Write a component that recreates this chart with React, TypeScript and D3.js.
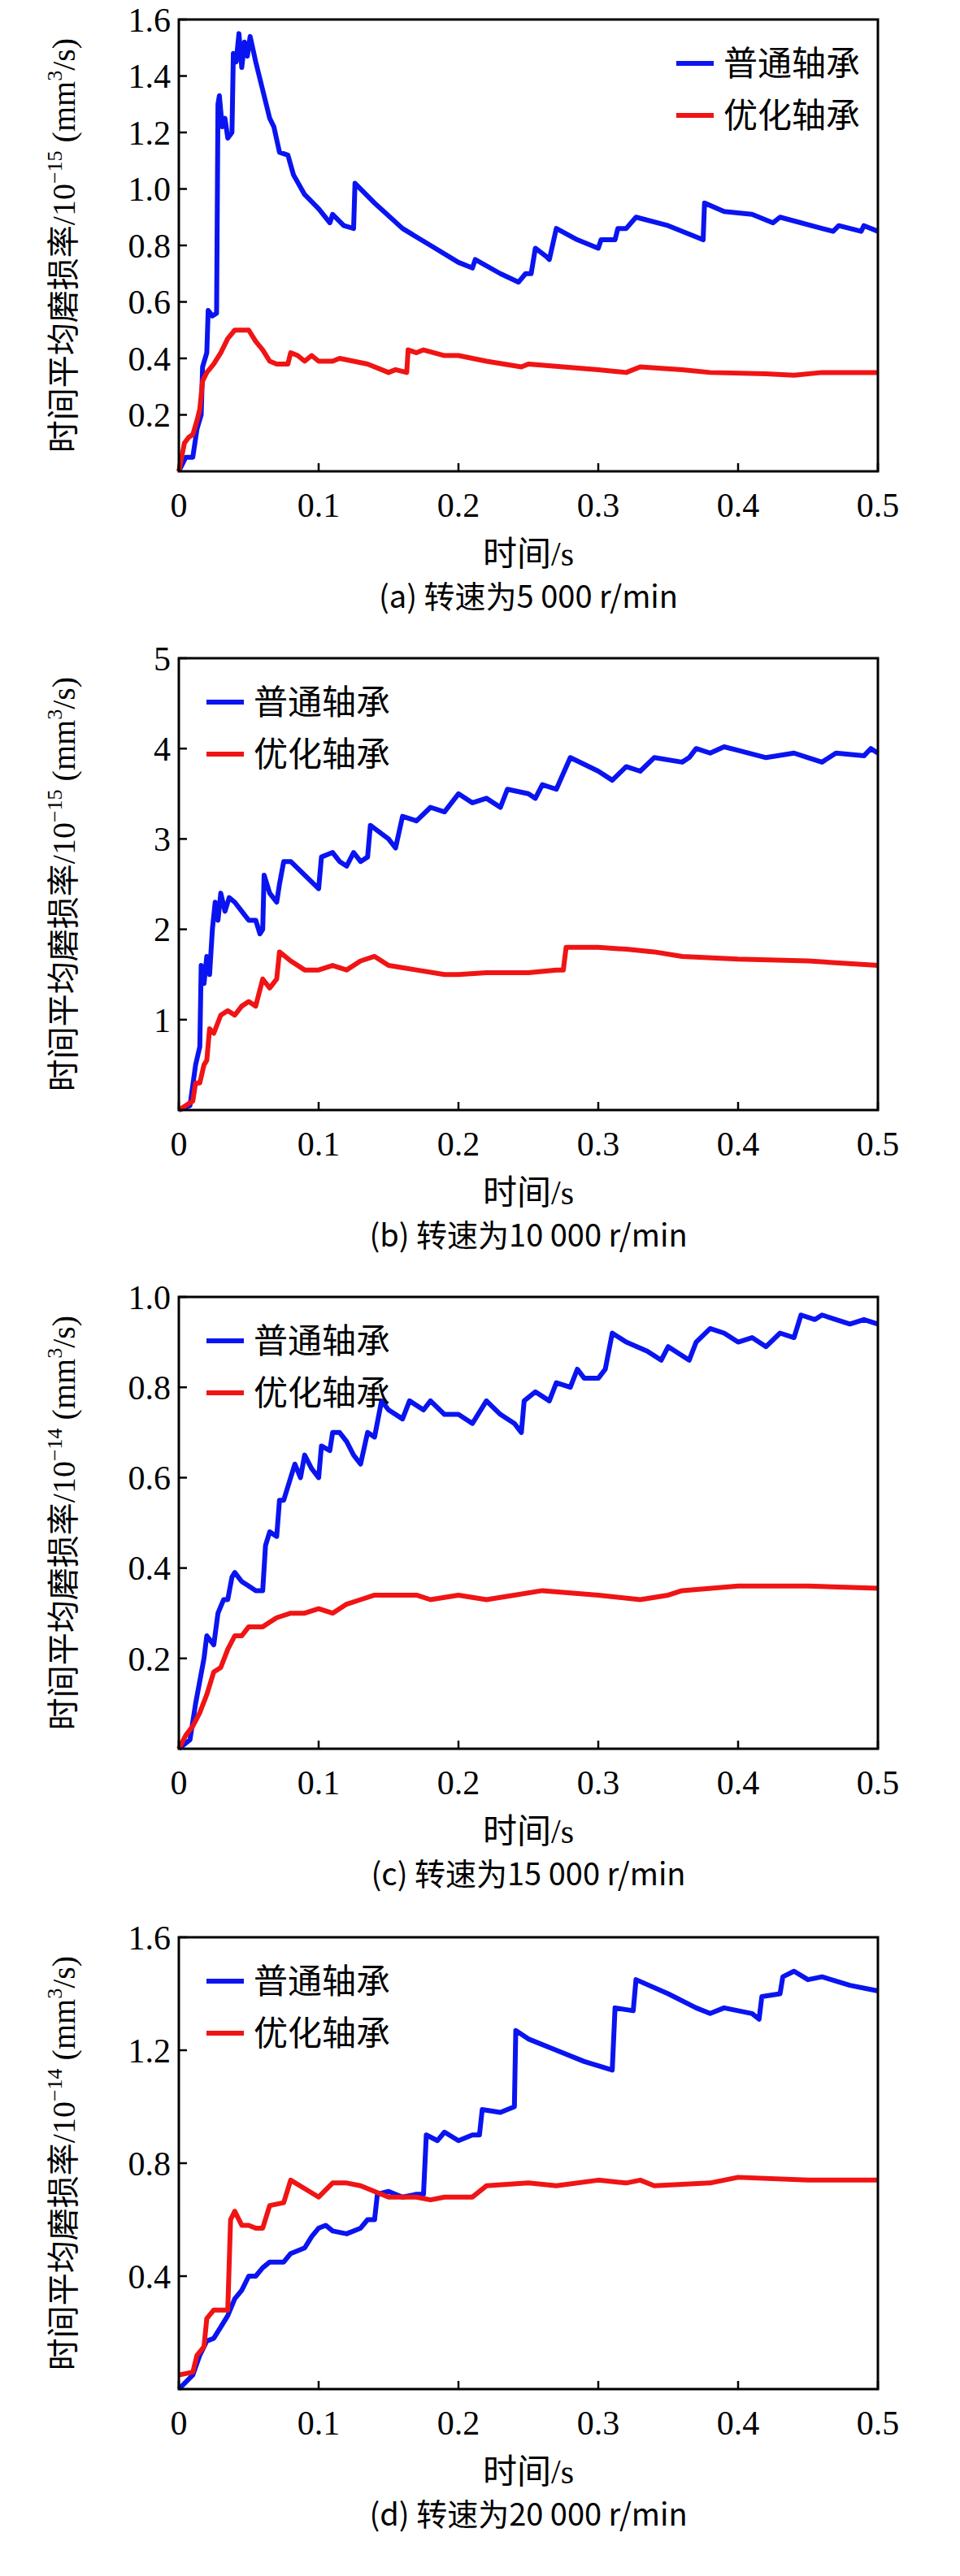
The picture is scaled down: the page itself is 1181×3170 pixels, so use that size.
import React from "react";
import * as d3 from "d3";

const xTicks = [0, 0.1, 0.2, 0.3, 0.4, 0.5];
const seriesNames = ["普通轴承", "优化轴承"];
const colors = ["#0a14f0", "#f01414"];

// panel a
const aBlueT = [0,0.005,0.01,0.013,0.016,0.017,0.02,0.021,0.024,0.027,0.028,0.029,0.031,0.033,0.035,0.038,0.039,0.041,0.043,0.045,0.047,0.049,0.051,0.055,0.06,0.065,0.068,0.072,0.078,0.082,0.09,0.1,0.108,0.11,0.118,0.125,0.126,0.14,0.16,0.18,0.2,0.21,0.212,0.23,0.243,0.248,0.252,0.255,0.263,0.265,0.27,0.285,0.3,0.302,0.312,0.314,0.32,0.327,0.35,0.375,0.376,0.39,0.41,0.425,0.43,0.46,0.468,0.472,0.488,0.49,0.5];
const aBlueV = [0,0.05,0.05,0.15,0.2,0.37,0.42,0.57,0.55,0.56,1.3,1.33,1.22,1.25,1.18,1.2,1.48,1.45,1.55,1.43,1.52,1.47,1.54,1.45,1.35,1.25,1.22,1.13,1.12,1.05,0.98,0.93,0.88,0.91,0.87,0.86,1.02,0.95,0.86,0.8,0.74,0.72,0.75,0.7,0.67,0.7,0.7,0.79,0.76,0.75,0.86,0.82,0.79,0.82,0.82,0.86,0.86,0.9,0.87,0.82,0.95,0.92,0.91,0.88,0.9,0.86,0.85,0.87,0.85,0.87,0.85];
const aRedT = [0,0.004,0.007,0.01,0.013,0.015,0.017,0.02,0.025,0.03,0.035,0.04,0.05,0.055,0.06,0.065,0.07,0.078,0.08,0.085,0.09,0.095,0.1,0.11,0.115,0.125,0.135,0.15,0.155,0.163,0.164,0.17,0.175,0.19,0.2,0.22,0.245,0.25,0.3,0.32,0.33,0.36,0.38,0.42,0.44,0.46,0.5];
const aRedV = [0,0.1,0.12,0.13,0.18,0.22,0.32,0.35,0.38,0.42,0.47,0.5,0.5,0.46,0.43,0.39,0.38,0.38,0.42,0.41,0.39,0.41,0.39,0.39,0.4,0.39,0.38,0.35,0.36,0.35,0.43,0.42,0.43,0.41,0.41,0.39,0.37,0.38,0.36,0.35,0.37,0.36,0.35,0.345,0.34,0.35,0.35];

// panel b
const bBlueT = [0,0.008,0.012,0.015,0.016,0.018,0.02,0.022,0.024,0.026,0.028,0.03,0.033,0.036,0.04,0.045,0.05,0.055,0.058,0.06,0.061,0.065,0.07,0.072,0.075,0.08,0.09,0.1,0.102,0.11,0.115,0.12,0.125,0.13,0.135,0.137,0.15,0.155,0.16,0.17,0.18,0.19,0.2,0.21,0.22,0.23,0.235,0.25,0.255,0.26,0.27,0.28,0.3,0.31,0.32,0.33,0.34,0.36,0.365,0.37,0.38,0.39,0.4,0.42,0.44,0.45,0.46,0.47,0.49,0.495,0.5];
const bBlueV = [0,0.05,0.5,0.7,1.6,1.4,1.7,1.5,2.0,2.3,2.1,2.4,2.2,2.35,2.3,2.2,2.1,2.1,1.95,2.0,2.6,2.4,2.3,2.5,2.75,2.75,2.6,2.45,2.8,2.85,2.75,2.7,2.85,2.75,2.8,3.15,3.0,2.9,3.25,3.2,3.35,3.3,3.5,3.4,3.45,3.35,3.55,3.5,3.45,3.6,3.55,3.9,3.75,3.65,3.8,3.75,3.9,3.85,3.9,4.0,3.95,4.02,3.98,3.9,3.95,3.9,3.85,3.95,3.92,4.0,3.95];
const bRedT = [0,0.005,0.01,0.012,0.015,0.018,0.02,0.022,0.025,0.03,0.035,0.04,0.045,0.05,0.055,0.06,0.065,0.07,0.072,0.08,0.09,0.1,0.11,0.12,0.13,0.14,0.15,0.17,0.19,0.2,0.22,0.25,0.27,0.275,0.277,0.3,0.32,0.34,0.36,0.4,0.45,0.5];
const bRedV = [0,0.05,0.1,0.3,0.3,0.5,0.55,0.9,0.85,1.05,1.1,1.05,1.15,1.2,1.15,1.45,1.35,1.45,1.75,1.65,1.55,1.55,1.6,1.55,1.65,1.7,1.6,1.55,1.5,1.5,1.52,1.52,1.55,1.55,1.8,1.8,1.78,1.75,1.7,1.67,1.65,1.6];

// panel c
const cBlueT = [0,0.008,0.012,0.015,0.018,0.02,0.025,0.028,0.032,0.035,0.038,0.04,0.045,0.05,0.055,0.06,0.062,0.065,0.07,0.072,0.075,0.08,0.083,0.087,0.09,0.095,0.1,0.102,0.108,0.11,0.115,0.12,0.125,0.13,0.135,0.14,0.145,0.15,0.16,0.165,0.175,0.18,0.19,0.2,0.21,0.22,0.23,0.24,0.245,0.247,0.255,0.265,0.27,0.28,0.285,0.29,0.3,0.305,0.31,0.32,0.335,0.345,0.35,0.36,0.365,0.37,0.38,0.39,0.4,0.41,0.42,0.43,0.44,0.445,0.455,0.46,0.47,0.48,0.49,0.5];
const cBlueV = [0,0.02,0.1,0.15,0.2,0.25,0.23,0.3,0.33,0.33,0.38,0.39,0.37,0.36,0.35,0.35,0.45,0.48,0.47,0.55,0.55,0.6,0.63,0.6,0.65,0.62,0.6,0.67,0.66,0.7,0.7,0.68,0.65,0.63,0.7,0.69,0.77,0.75,0.73,0.77,0.75,0.77,0.74,0.74,0.72,0.77,0.74,0.72,0.7,0.77,0.79,0.77,0.81,0.8,0.84,0.82,0.82,0.84,0.92,0.9,0.88,0.86,0.89,0.87,0.86,0.9,0.93,0.92,0.9,0.91,0.89,0.92,0.91,0.96,0.95,0.96,0.95,0.94,0.95,0.94];
const cRedT = [0,0.005,0.01,0.015,0.02,0.025,0.03,0.035,0.04,0.045,0.05,0.06,0.065,0.07,0.08,0.09,0.1,0.11,0.12,0.13,0.14,0.15,0.17,0.18,0.2,0.22,0.24,0.26,0.3,0.33,0.35,0.36,0.4,0.45,0.5];
const cRedV = [0,0.03,0.05,0.08,0.12,0.17,0.18,0.22,0.25,0.25,0.27,0.27,0.28,0.29,0.3,0.3,0.31,0.3,0.32,0.33,0.34,0.34,0.34,0.33,0.34,0.33,0.34,0.35,0.34,0.33,0.34,0.35,0.36,0.36,0.355];

// panel d
const dBlueT = [0,0.01,0.015,0.02,0.025,0.03,0.035,0.04,0.045,0.05,0.055,0.06,0.065,0.075,0.08,0.09,0.095,0.1,0.105,0.11,0.12,0.13,0.135,0.14,0.142,0.15,0.16,0.17,0.175,0.177,0.185,0.19,0.2,0.21,0.215,0.217,0.23,0.24,0.241,0.25,0.27,0.29,0.31,0.312,0.325,0.327,0.35,0.37,0.38,0.39,0.41,0.415,0.417,0.43,0.432,0.44,0.45,0.46,0.48,0.5];
const dBlueV = [0,0.05,0.12,0.17,0.18,0.22,0.26,0.32,0.35,0.4,0.4,0.43,0.45,0.45,0.48,0.5,0.54,0.57,0.58,0.56,0.55,0.57,0.6,0.6,0.69,0.7,0.68,0.69,0.69,0.9,0.88,0.91,0.88,0.9,0.9,0.99,0.98,1.0,1.27,1.24,1.2,1.16,1.13,1.35,1.34,1.45,1.4,1.35,1.33,1.35,1.33,1.31,1.39,1.4,1.46,1.48,1.45,1.46,1.43,1.41];
const dRedT = [0,0.01,0.013,0.018,0.02,0.025,0.035,0.037,0.04,0.045,0.05,0.055,0.06,0.065,0.075,0.08,0.09,0.1,0.11,0.12,0.13,0.14,0.15,0.17,0.18,0.19,0.21,0.22,0.25,0.27,0.3,0.32,0.33,0.34,0.38,0.4,0.45,0.5];
const dRedV = [0.05,0.06,0.12,0.15,0.25,0.28,0.28,0.6,0.63,0.58,0.58,0.57,0.57,0.65,0.66,0.74,0.71,0.68,0.73,0.73,0.72,0.7,0.68,0.68,0.67,0.68,0.68,0.72,0.73,0.72,0.74,0.73,0.74,0.72,0.73,0.75,0.74,0.74];

const panels = [
  { exp: "15", yMax: 1.6, yTicks: [0.2,0.4,0.6,0.8,1.0,1.2,1.4,1.6], fmt: ".1f", legendRight: true, caption: "(a) 转速为5 000 r/min",
    series: [[aBlueT, aBlueV], [aRedT, aRedV]] },
  { exp: "15", yMax: 5, yTicks: [1,2,3,4,5], fmt: "d", legendRight: false, caption: "(b) 转速为10 000 r/min",
    series: [[bBlueT, bBlueV], [bRedT, bRedV]] },
  { exp: "14", yMax: 1.0, yTicks: [0.2,0.4,0.6,0.8,1.0], fmt: ".1f", legendRight: false, caption: "(c) 转速为15 000 r/min",
    series: [[cBlueT, cBlueV], [cRedT, cRedV]] },
  { exp: "14", yMax: 1.6, yTicks: [0.4,0.8,1.2,1.6], fmt: ".1f", legendRight: false, caption: "(d) 转速为20 000 r/min",
    series: [[dBlueT, dBlueV], [dRedT, dRedV]] },
];

const serif = "'Liberation Serif', 'DejaVu Serif', serif";
const cjk = "'Noto Sans CJK SC', sans-serif";

const L = 220, W = 860, H = 556;
const tops = [24, 810, 1596, 2384];

function Panel({ p, top }: any) {
  const x = d3.scaleLinear().domain([0, 0.5]).range([0, W]);
  const y = d3.scaleLinear().domain([0, p.yMax]).range([H, 0]);
  const line = d3.line<[number, number]>().x(d => x(d[0])).y(d => y(d[1]));
  const f = d3.format(p.fmt);
  const legX = p.legendRight ? 612 : 34;
  return (
    <g transform={`translate(${L},${top})`}>
      {p.series.map((s: any, i: number) => (
        <path key={i} d={line(s[0].map((t: number, k: number) => [t, s[1][k]]))!} fill="none" stroke={colors[i]} strokeWidth={6} strokeLinejoin="round" />
      ))}
      <rect x={0} y={0} width={W} height={H} fill="none" stroke="#000" strokeWidth={3} />
      {p.yTicks.map((t: number) => (
        <g key={t}>
          <line x1={0} x2={10} y1={y(t)} y2={y(t)} stroke="#000" strokeWidth={2.5} />
          <text x={-10} y={y(t)} dy="0.35em" textAnchor="end" fontFamily={serif} fontSize={42}>{f(t)}</text>
        </g>
      ))}
      {xTicks.map(t => (
        <g key={t}>
          <line x1={x(t)} x2={x(t)} y1={H} y2={H - 10} stroke="#000" strokeWidth={2.5} />
          <text x={x(t)} y={H + 56} textAnchor="middle" fontFamily={serif} fontSize={42}>{d3.format("")(t)}</text>
        </g>
      ))}
      {seriesNames.map((n, i) => (
        <g key={n} transform={`translate(${legX},${54 + i * 64})`}>
          <line x1={0} x2={46} y1={0} y2={0} stroke={colors[i]} strokeWidth={6} />
          <text x={58} y={0} dy="0.35em" fontFamily={cjk} fontSize={42}>{n}</text>
        </g>
      ))}
      <text transform={`translate(${-128},${H / 2}) rotate(-90)`} textAnchor="middle" fontSize={40}>
        <tspan fontFamily={cjk}>时间平均磨损率</tspan>
        <tspan fontFamily={serif}>/10</tspan>
        <tspan fontFamily={serif} fontSize={26} dy={-16}>−{p.exp}</tspan>
        <tspan fontFamily={serif} dy={16}> (mm</tspan>
        <tspan fontFamily={serif} fontSize={26} dy={-16}>3</tspan>
        <tspan fontFamily={serif} dy={16}>/s)</tspan>
      </text>
      <text x={W / 2} y={H + 116} textAnchor="middle" fontSize={42}>
        <tspan fontFamily={cjk}>时间</tspan><tspan fontFamily={serif}>/s</tspan>
      </text>
      <text x={W / 2} y={H + 168} textAnchor="middle" fontSize={38} fontFamily={cjk}>{p.caption}</text>
    </g>
  );
}

export default function App() {
  return (
    <svg width={1181} height={3170} style={{ position: "absolute", left: 0, top: 0, background: "#fff" }}>
      <rect width={1181} height={3170} fill="#fff" />
      {panels.map((p, i) => <Panel key={i} p={p} top={tops[i]} />)}
    </svg>
  );
}
